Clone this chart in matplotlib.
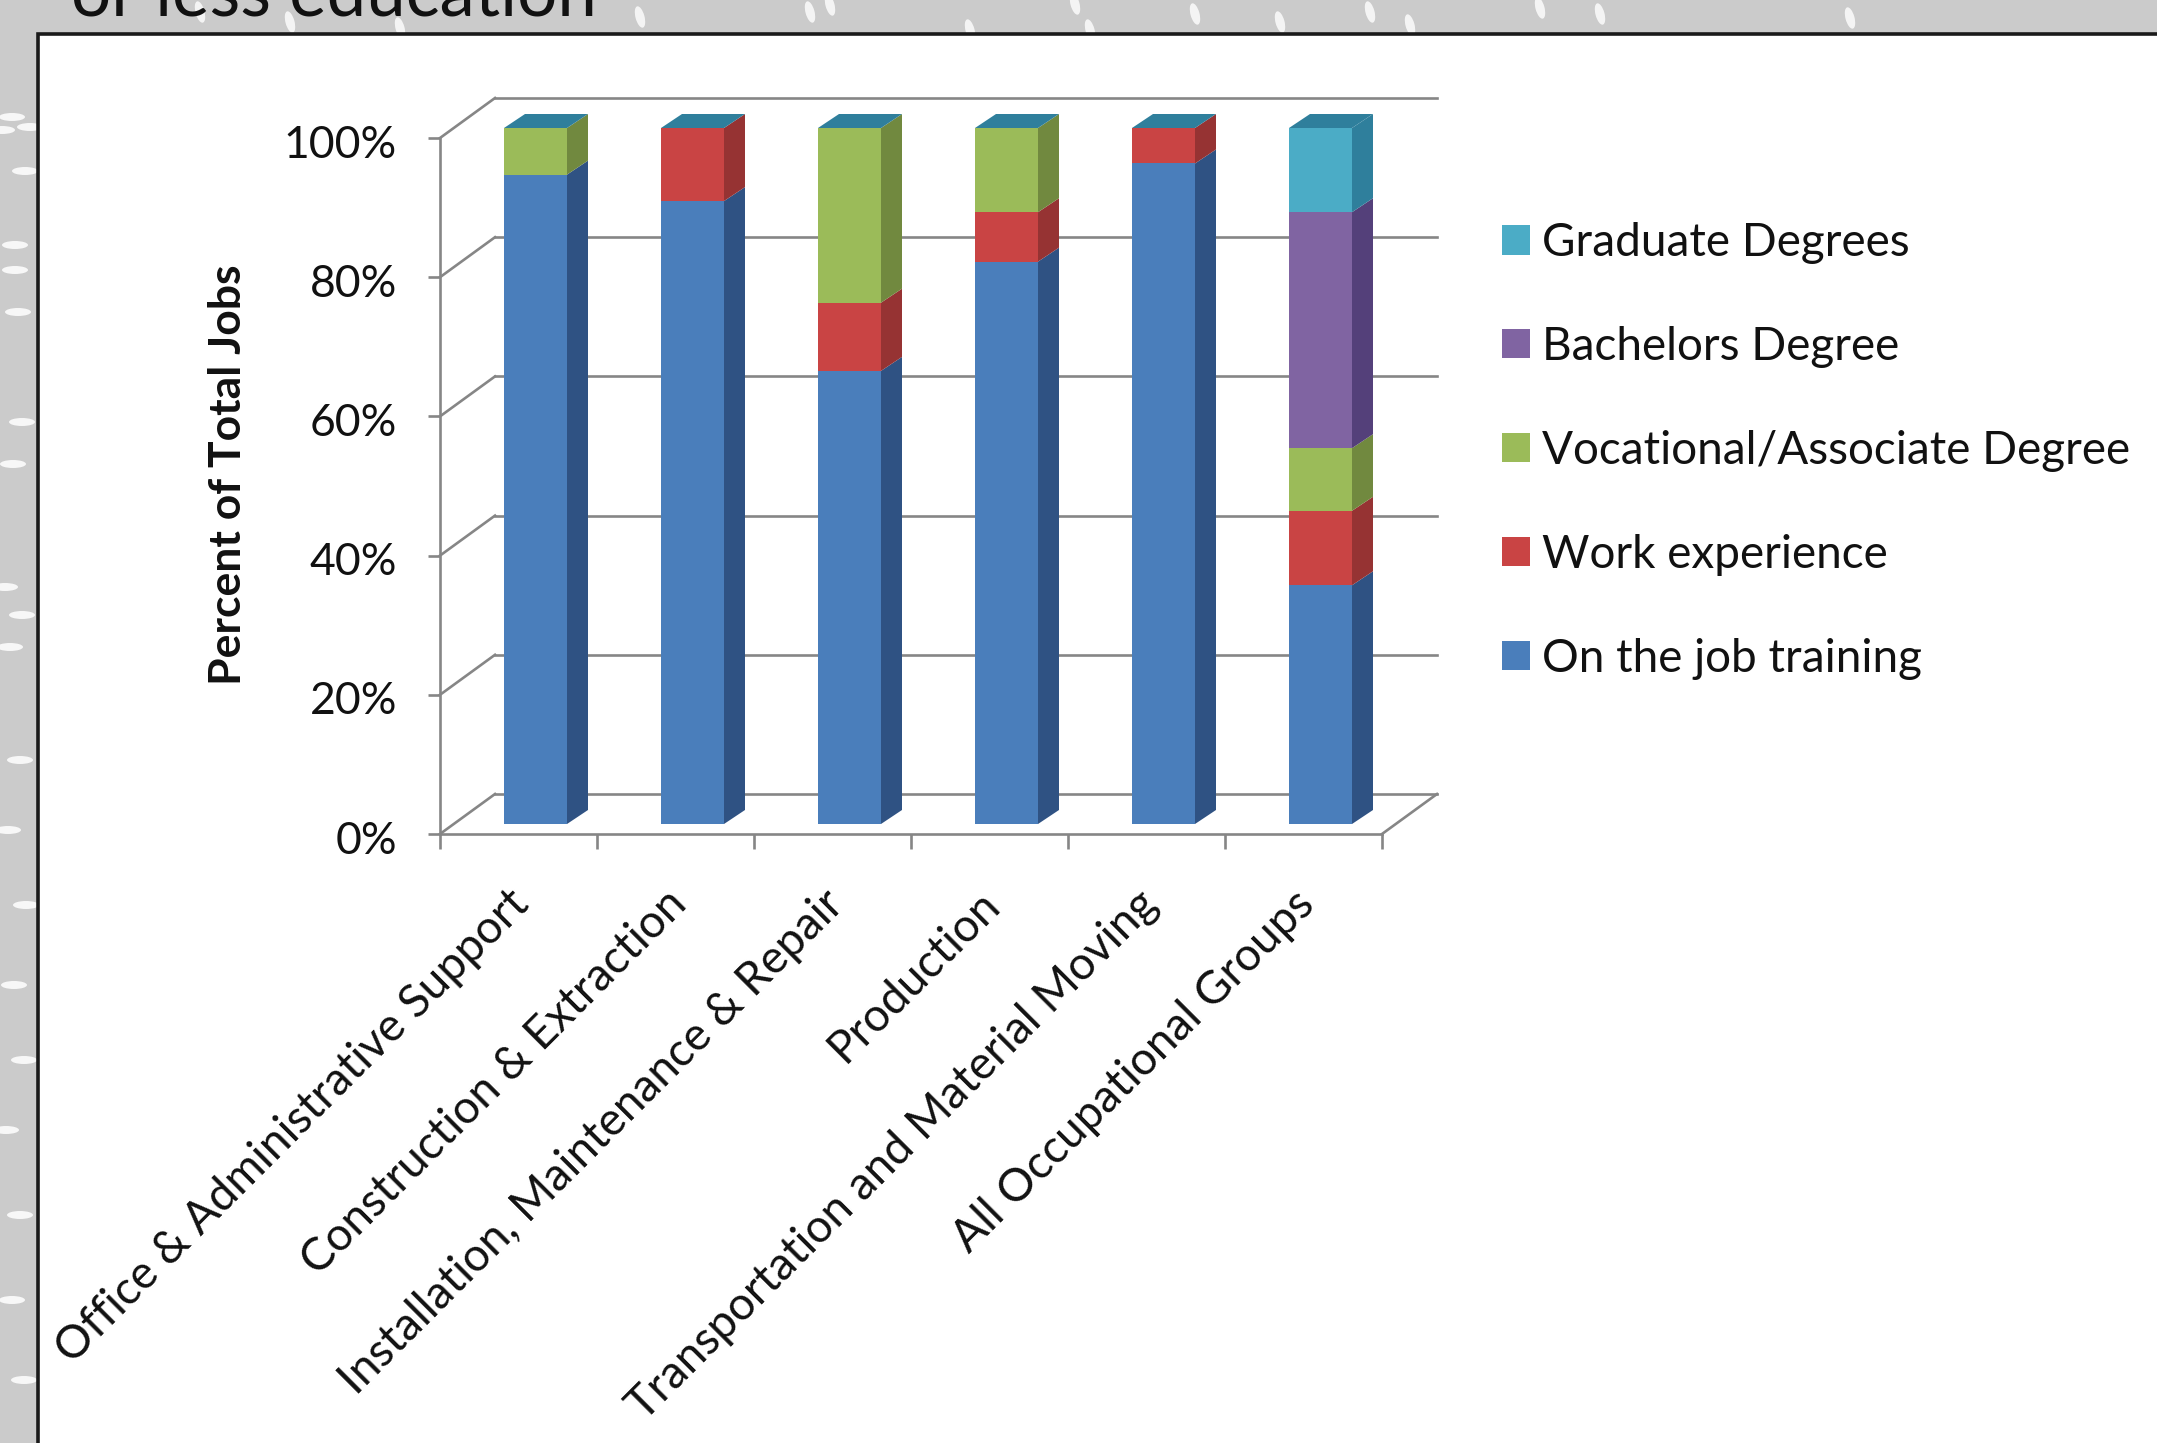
import numpy as np
import matplotlib.pyplot as plt
from matplotlib.patches import Rectangle, Polygon, Ellipse
from matplotlib.transforms import ScaledTranslation

plt.rcParams["font.family"] = ["Lato", "DejaVu Sans"]

# Values (percent of total jobs)
categories = [
    "Office & Administrative Support",
    "Construction & Extraction",
    "Installation, Maintenance & Repair",
    "Production",
    "Transportation and Material Moving",
    "All Occupational Groups",
]
on_the_job = [93.3, 89.5, 65.1, 80.8, 94.9, 34.3]
work_experience = [0.0, 10.5, 9.8, 7.1, 5.1, 10.7]
vocational = [6.7, 0.0, 25.1, 12.1, 0.0, 9.0]
bachelors = [0.0, 0.0, 0.0, 0.0, 0.0, 33.9]
graduate = [0.0, 0.0, 0.0, 0.0, 0.0, 12.1]
y_ticks = [0, 20, 40, 60, 80, 100]

series = [
    ("On the job training", on_the_job, "#4a7ebb", "#2f5283"),
    ("Work experience", work_experience, "#c94444", "#963333"),
    ("Vocational/Associate Degree", vocational, "#9bbb59", "#71893f"),
    ("Bachelors Degree", bachelors, "#8064a2", "#54407a"),
    ("Graduate Degrees", graduate, "#4bacc6", "#2f7f9c"),
]

W, H = 2157, 1443
fig = plt.figure(figsize=(W / 100, H / 100), dpi=100, facecolor="#cbcbcb")

# Slide background: light grey with a few white flecks along the visible edges
bg = fig.add_axes([0, 0, 1, 1], zorder=0)
bg.set_xlim(0, W)
bg.set_ylim(H, 0)
bg.axis("off")
left_flecks = [(12, 117), (2, 130), (30, 127), (25, 171), (15, 245), (15, 270), (18, 312),
               (22, 422), (13, 464), (5, 587), (22, 615), (10, 647), (20, 760), (8, 830),
               (26, 905), (14, 985), (24, 1060), (6, 1130), (20, 1215), (12, 1300), (24, 1380)]
top_flecks = [(200, 12), (290, 22), (400, 28), (640, 17), (810, 12), (830, 5), (970, 30),
              (1075, 4), (1090, 30), (1195, 14), (1280, 22), (1370, 12), (1410, 25),
              (1540, 8), (1600, 14), (1850, 18)]
for fx, fy in left_flecks:
    bg.add_patch(Ellipse((fx, fy), 26, 8, facecolor="white", edgecolor="none", alpha=0.85))
for fx, fy in top_flecks:
    bg.add_patch(Ellipse((fx, fy), 9, 22, angle=-15, facecolor="white", edgecolor="none", alpha=0.8))

# White chart panel with black edge
bg.add_patch(Rectangle((38, 34), W, H, facecolor="white", edgecolor="#1a1a1a", linewidth=2.6))

# Title runs off the top of the picture
bg.text(71, 15, "or less education", fontsize=51, color="#111111", ha="left", va="baseline")

# Axes cover the front plane of the 3D box
x0, x1, y0, y1 = 440, 1382, 834, 138
ax = fig.add_axes([x0 / W, 1 - y0 / H, (x1 - x0) / W, (y0 - y1) / H], zorder=1)
ax.patch.set_alpha(0)
ax.set_xlim(0, 6)
ax.set_ylim(0, 100)

px_x = 6 / (x1 - x0)
px_y = 100 / (y0 - y1)
wall_dx, wall_dy = 55 * px_x, 40 * px_y
shift_x, shift_y = 17 * px_x, 10 * px_y
depth_x, depth_y = 21 * px_x, 14 * px_y
bar_w = 63 * px_x
grey = "#868686"

# Back wall gridlines, side wall diagonals
for t in y_ticks:
    ax.plot([wall_dx, 6 + wall_dx], [t + wall_dy] * 2, color=grey, lw=1.9, clip_on=False, zorder=1)
    ax.plot([0, wall_dx], [t, t + wall_dy], color=grey, lw=1.9, clip_on=False, zorder=1)
ax.plot([6, 6 + wall_dx], [0, wall_dy], color=grey, lw=1.9, clip_on=False, zorder=1)

# Stacked bars: front face with bar(), side and top faces as polygons
pos = np.arange(len(categories)) + 0.5 + shift_x
bottom = np.zeros(len(categories))
handles = []
for name, values, front, side in series:
    values = np.array(values)
    cont = ax.bar(pos, values, bar_w, bottom=bottom + shift_y, color=front, label=name,
                  clip_on=False, zorder=3)
    handles.append(cont)
    for p, b, v in zip(pos, bottom, values):
        if v > 0:
            r = p + bar_w / 2
            ax.add_patch(Polygon([(r, b + shift_y), (r + depth_x, b + shift_y + depth_y),
                                  (r + depth_x, b + v + shift_y + depth_y), (r, b + v + shift_y)],
                                 facecolor=side, edgecolor="none", clip_on=False, zorder=3))
    bottom = bottom + values

for p, t in zip(pos, bottom):
    l, r = p - bar_w / 2, p + bar_w / 2
    ax.add_patch(Polygon([(l, t + shift_y), (r, t + shift_y), (r + depth_x, t + shift_y + depth_y),
                          (l + depth_x, t + shift_y + depth_y)],
                         facecolor="#2f7f9c", edgecolor="none", clip_on=False, zorder=3))

# Axis styling
for s in ["top", "right"]:
    ax.spines[s].set_visible(False)
for s in ["left", "bottom"]:
    ax.spines[s].set_color(grey)
    ax.spines[s].set_linewidth(1.9)
ax.set_yticks(y_ticks)
ax.set_yticklabels([f"{t}%" for t in y_ticks], fontsize=32, color="#111111")
ax.tick_params(axis="y", length=9, width=1.9, color=grey, pad=22)
ax.set_xticks(range(7))
ax.set_xticklabels([])
ax.tick_params(axis="x", which="major", length=11, width=1.9, color=grey)
ax.set_xticks(np.arange(6) + 0.5, minor=True)
ax.set_xticklabels(categories, minor=True, rotation=45, ha="right", va="top",
                   rotation_mode="anchor", fontsize=33, color="#111111")
ax.tick_params(axis="x", which="minor", length=0, pad=30)

# Nudge tick labels by a few pixels
for lab in ax.get_yticklabels():
    lab.set_transform(lab.get_transform() + ScaledTranslation(0, -0.03, fig.dpi_scale_trans))
for lab in ax.get_xticklabels(minor=True):
    lab.set_transform(lab.get_transform() + ScaledTranslation(-0.11, -0.07, fig.dpi_scale_trans))

ax.set_ylabel("Percent of Total Jobs", fontsize=32, fontweight="bold", color="#111111", va="center")
ax.yaxis.set_label_coords((228 - x0) / (x1 - x0), (y0 - 475) / (y0 - y1))

# Legend, top entry first
fs = 33
em = fs * 100 / 72
ax.legend(handles[::-1], [s[0] for s in series][::-1], loc="upper left",
          bbox_to_anchor=(1502 / W, 1 - 222 / H), bbox_transform=fig.transFigure,
          frameon=False, fontsize=fs, borderpad=0, borderaxespad=0,
          handlelength=28 / em, handleheight=0.61, handletextpad=12 / em,
          labelspacing=1.35, labelcolor="#111111")

fig.savefig("out.png", dpi=100, facecolor=fig.get_facecolor())
